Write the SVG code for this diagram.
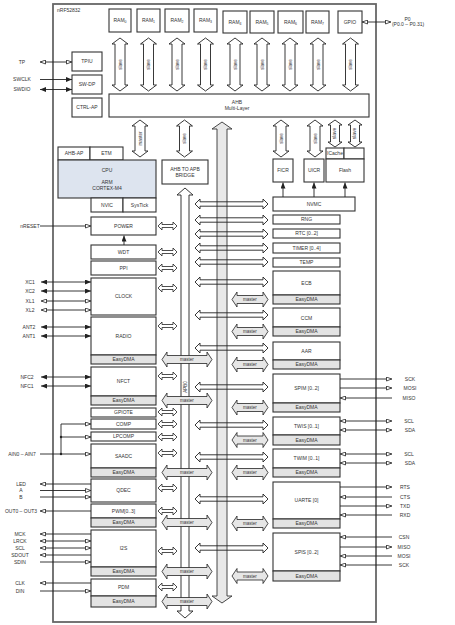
<svg xmlns="http://www.w3.org/2000/svg" width="455" height="625" viewBox="0 0 455 625">
<style>
text{font-family:"Liberation Sans",Arial,sans-serif;font-size:5px;fill:#333}
.c{text-anchor:middle}
.b{fill:#fff;stroke:#333;stroke-width:1.1}
.d{fill:#e3e3e3;stroke:#333;stroke-width:1.1}
.cpu{fill:#dde4ef;stroke:#333;stroke-width:1.1}
.ln{stroke:#222;stroke-width:0.9;fill:none}
.arn{fill:none;stroke:#222;stroke-width:0.9}
.sm{font-size:4.5px}
</style>
<defs>
<marker id="f" viewBox="0 0 6 5" refX="6" refY="2.5" markerWidth="6" markerHeight="5" markerUnits="userSpaceOnUse" orient="auto-start-reverse"><path d="M0,0L6,2.5L0,5z" fill="#222"/></marker>
<marker id="h" viewBox="0 0 6 5" refX="6" refY="2.5" markerWidth="6" markerHeight="5" markerUnits="userSpaceOnUse" orient="auto-start-reverse"><path d="M0.5,0.5L5.6,2.5L0.5,4.5z" fill="#fff" stroke="#222" stroke-width="0.8"/></marker>
<path id="aL" d="M195,0L200,-5L200,-2.2L263,-2.2L263,-5L268,0L263,5L263,2.2L200,2.2L200,5Z" fill="none" stroke="#222" stroke-width="0.9"/>
<path id="aS" d="M158,0L162,-4L162,-1.5L173,-1.5L173,-4L177,0L173,4L173,1.5L162,1.5L162,4Z" fill="#fff" stroke="#222" stroke-width="0.8"/>
<g id="mL"><path d="M162,0L167,-7.5L167,-4L207,-4L207,-7.5L212,0L207,7.5L207,4L167,4L167,7.5Z" fill="#e6e6e6" stroke="#222" stroke-width="0.8"/><text x="187" y="1.6" class="c sm">master</text></g>
<g id="mR"><path d="M232,0L237,-7.5L237,-4L263,-4L263,-7.5L268,0L263,7.5L263,4L237,4L237,7.5Z" fill="#e6e6e6" stroke="#222" stroke-width="0.8"/><text x="250" y="1.6" class="c sm">master</text></g>
<g id="sv1"><path d="M0,0L8,6L5,6L5,47L8,47L0,53L-8,47L-5,47L-5,6L-8,6Z" fill="#fff" stroke="#222" stroke-width="0.9"/><text transform="rotate(-90)" x="-26.5" y="1.6" class="c sm">slave</text></g>
<g id="sv2"><path d="M0,0L8,6L5,6L5,31L8,31L0,37L-8,31L-5,31L-5,6L-8,6Z" fill="#fff" stroke="#222" stroke-width="0.9"/><text transform="rotate(-90)" x="-18.5" y="1.6" class="c sm">slave</text></g>
<g id="mv"><path d="M0,0L8,6L5,6L5,31L8,31L0,37L-8,31L-5,31L-5,6L-8,6Z" fill="#fff" stroke="#222" stroke-width="0.9"/><text transform="rotate(-90)" x="-18.5" y="1.6" class="c sm">master</text></g>
<g id="sv3"><path d="M0,0L7,5L4.5,5L4.5,22L7,22L0,27L-7,22L-4.5,22L-4.5,5L-7,5Z" fill="#fff" stroke="#222" stroke-width="0.9"/><text transform="rotate(-90)" x="-13.5" y="1.4" class="c" font-size="4">slave</text></g>
</defs>

<g id="chip"><rect x="53" y="4" width="323" height="618" fill="none" stroke="#666" stroke-width="1.8"/><text x="57" y="12" font-size="4.5">nRF52832</text></g>

<g id="ram0"><rect class="b" x="109" y="9" width="22" height="23"/><text x="120" y="22" class="c">RAM<tspan font-size="3.5" dy="1">0</tspan></text></g>
<g id="ram1"><rect class="b" x="137" y="9" width="23" height="23"/><text x="148.5" y="22" class="c">RAM<tspan font-size="3.5" dy="1">1</tspan></text></g>
<g id="ram2"><rect class="b" x="165" y="9" width="24" height="23"/><text x="177" y="22" class="c">RAM<tspan font-size="3.5" dy="1">2</tspan></text></g>
<g id="ram3"><rect class="b" x="194" y="9" width="23" height="23"/><text x="205.5" y="22" class="c">RAM<tspan font-size="3.5" dy="1">3</tspan></text></g>
<g id="ram4"><rect class="b" x="223" y="11" width="24" height="22"/><text x="235" y="23.5" class="c">RAM<tspan font-size="3.5" dy="1">4</tspan></text></g>
<g id="ram5"><rect class="b" x="250" y="11" width="24" height="22"/><text x="262" y="23.5" class="c">RAM<tspan font-size="3.5" dy="1">5</tspan></text></g>
<g id="ram6"><rect class="b" x="278" y="11" width="25" height="22"/><text x="290.5" y="23.5" class="c">RAM<tspan font-size="3.5" dy="1">6</tspan></text></g>
<g id="ram7"><rect class="b" x="306" y="11" width="23" height="22"/><text x="317.5" y="23.5" class="c">RAM<tspan font-size="3.5" dy="1">7</tspan></text></g>
<g id="gpio"><rect class="b" x="338" y="11" width="24" height="22"/><text x="350" y="23.5" class="c">GPIO</text></g>

<g id="ahb"><rect class="b" x="109" y="94" width="260" height="23"/><text x="237" y="103.5" class="c">AHB</text><text x="237" y="110" class="c">Multi-Layer</text></g>

<g id="tpiu"><rect class="b" x="72" y="52" width="30" height="19"/><text x="87" y="63.3" class="c">TPIU</text></g>
<g id="swdp"><rect class="b" x="72" y="75" width="30" height="19"/><text x="87" y="86.3" class="c">SW-DP</text></g>
<g id="ctrlap"><rect class="b" x="72" y="98" width="30" height="19"/><text x="87" y="109.3" class="c">CTRL-AP</text></g>

<g id="cpu">
<rect class="b" x="58" y="147" width="32" height="13"/><text x="74" y="155.3" class="c">AHB-AP</text>
<rect class="b" x="90" y="147" width="33" height="13"/><text x="106.5" y="155.3" class="c">ETM</text>
<rect class="cpu" x="58" y="160" width="98" height="38"/>
<text x="107" y="171.8" class="c">CPU</text><text x="107" y="183.5" class="c">ARM</text><text x="107" y="190" class="c">CORTEX-M4</text>
<rect class="b" x="91" y="198" width="32" height="14"/><text x="107" y="206.8" class="c">NVIC</text>
<rect class="b" x="123" y="198" width="33" height="14"/><text x="139.5" y="206.8" class="c">SysTick</text>
</g>

<g id="bridge"><rect class="b" x="162" y="160" width="46" height="24"/><text x="185" y="170.8" class="c">AHB TO APB</text><text x="185" y="177" class="c">BRIDGE</text></g>

<g id="ficr"><rect class="b" x="273" y="159" width="20" height="23"/><text x="283" y="172.3" class="c">FICR</text></g>
<g id="uicr"><rect class="b" x="304" y="159" width="20" height="23"/><text x="314" y="172.3" class="c">UICR</text></g>
<g id="flash"><rect class="b" x="326" y="148" width="18" height="11"/><text x="335" y="154.8" class="c" font-size="3.5">ICache</text><rect class="b" x="344" y="148" width="20" height="11"/><rect class="b" x="326" y="159" width="38" height="23"/><text x="345" y="172.3" class="c">Flash</text></g>
<g id="nvmc"><rect class="b" x="273" y="197" width="82" height="14"/><text x="314" y="205.8" class="c">NVMC</text></g>

<g id="power"><rect class="b" x="91" y="217" width="65" height="18"/><text x="123.5" y="227.8" class="c">POWER</text></g>
<g id="wdt"><rect class="b" x="91" y="245" width="65" height="14"/><text x="123.5" y="253.8" class="c">WDT</text></g>
<g id="ppi"><rect class="b" x="91" y="261" width="65" height="14"/><text x="123.5" y="269.8" class="c">PPI</text></g>
<g id="clock"><rect class="b" x="91" y="278" width="65" height="37"/><text x="123.5" y="298.3" class="c">CLOCK</text></g>
<g id="radio"><rect class="b" x="91" y="317" width="65" height="38"/><text x="123.5" y="337.8" class="c">RADIO</text><rect class="d" x="91" y="355" width="65" height="9"/><text x="123.5" y="361.3" class="c">EasyDMA</text></g>
<g id="nfct"><rect class="b" x="91" y="367" width="65" height="29"/><text x="123.5" y="383.3" class="c">NFCT</text><rect class="d" x="91" y="396" width="65" height="9"/><text x="123.5" y="402.3" class="c">EasyDMA</text></g>
<g id="gpiote"><rect class="b" x="91" y="408" width="65" height="9"/><text x="123.5" y="414.3" class="c">GPIOTE</text></g>
<g id="comp"><rect class="b" x="91" y="419" width="65" height="10"/><text x="123.5" y="425.8" class="c">COMP</text></g>
<g id="lpcomp"><rect class="b" x="91" y="432" width="65" height="9"/><text x="123.5" y="438.3" class="c">LPCOMP</text></g>
<g id="saadc"><rect class="b" x="91" y="444" width="65" height="24"/><text x="123.5" y="457.8" class="c">SAADC</text><rect class="d" x="91" y="468" width="65" height="9"/><text x="123.5" y="474.3" class="c">EasyDMA</text></g>
<g id="qdec"><rect class="b" x="91" y="479" width="65" height="23"/><text x="123.5" y="492.3" class="c">QDEC</text></g>
<g id="pwm"><rect class="b" x="91" y="504" width="65" height="14"/><text x="123.5" y="512.8" class="c">PWM[0..3]</text><rect class="d" x="91" y="518" width="65" height="9"/><text x="123.5" y="524.3" class="c">EasyDMA</text></g>
<g id="i2s"><rect class="b" x="91" y="530" width="65" height="37"/><text x="123.5" y="550.3" class="c">I2S</text><rect class="d" x="91" y="567" width="65" height="9"/><text x="123.5" y="573.3" class="c">EasyDMA</text></g>
<g id="pdm"><rect class="b" x="91" y="579" width="65" height="17"/><text x="123.5" y="589.3" class="c">PDM</text><rect class="d" x="91" y="596" width="65" height="11"/><text x="123.5" y="603.3" class="c">EasyDMA</text></g>

<g id="rng"><rect class="b" x="273" y="215" width="67" height="9"/><text x="306.5" y="221.3" class="c">RNG</text></g>
<g id="rtc"><rect class="b" x="273" y="229" width="67" height="9"/><text x="306.5" y="235.3" class="c">RTC [0..2]</text></g>
<g id="timer"><rect class="b" x="273" y="243" width="67" height="10"/><text x="306.5" y="249.8" class="c">TIMER [0..4]</text></g>
<g id="temp"><rect class="b" x="273" y="258" width="67" height="9"/><text x="306.5" y="264.3" class="c">TEMP</text></g>
<g id="ecb"><rect class="b" x="273" y="271" width="67" height="24"/><text x="306.5" y="284.8" class="c">ECB</text><rect class="d" x="273" y="295" width="67" height="9"/><text x="306.5" y="301.3" class="c">EasyDMA</text></g>
<g id="ccm"><rect class="b" x="273" y="308" width="67" height="19"/><text x="306.5" y="320" class="c">CCM</text><rect class="d" x="273" y="327" width="67" height="9"/><text x="306.5" y="333.3" class="c">EasyDMA</text></g>
<g id="aar"><rect class="b" x="273" y="342" width="67" height="18"/><text x="306.5" y="352.8" class="c">AAR</text><rect class="d" x="273" y="360" width="67" height="9"/><text x="306.5" y="366.3" class="c">EasyDMA</text></g>
<g id="spim"><rect class="b" x="273" y="374" width="67" height="29"/><text x="306.5" y="389.8" class="c">SPIM [0..2]</text><rect class="d" x="273" y="403" width="67" height="9"/><text x="306.5" y="409.3" class="c">EasyDMA</text></g>
<g id="twis"><rect class="b" x="273" y="417" width="67" height="18"/><text x="306.5" y="427.8" class="c">TWIS [0..1]</text><rect class="d" x="273" y="435" width="67" height="10"/><text x="306.5" y="441.8" class="c">EasyDMA</text></g>
<g id="twim"><rect class="b" x="273" y="449" width="67" height="19"/><text x="306.5" y="459.5" class="c">TWIM [0..1]</text><rect class="d" x="273" y="468" width="67" height="9"/><text x="306.5" y="474.3" class="c">EasyDMA</text></g>
<g id="uarte"><rect class="b" x="273" y="482" width="67" height="37"/><text x="306.5" y="501.8" class="c">UARTE [0]</text><rect class="d" x="273" y="519" width="67" height="9"/><text x="306.5" y="525.3" class="c">EasyDMA</text></g>
<g id="spis"><rect class="b" x="273" y="533" width="67" height="38"/><text x="306.5" y="553.8" class="c">SPIS [0..2]</text><rect class="d" x="273" y="571" width="67" height="10"/><text x="306.5" y="577.8" class="c">EasyDMA</text></g>

<g id="labels">
<text x="22" y="63.8" class="c">TP</text><text x="22" y="81.3" class="c">SWCLK</text><text x="22" y="91.3" class="c">SWDIO</text>
<text x="30" y="227.8" class="c">nRESET</text>
<text x="30" y="283.8" class="c">XC1</text><text x="30" y="292.8" class="c">XC2</text><text x="30" y="302.8" class="c">XL1</text><text x="30" y="311.8" class="c">XL2</text>
<text x="29" y="328.8" class="c">ANT2</text><text x="29" y="337.8" class="c">ANT1</text>
<text x="27" y="378.8" class="c">NFC2</text><text x="27" y="387.8" class="c">NFC1</text>
<text x="22" y="455.8" class="c">AIN0 – AIN7</text>
<text x="21" y="485.8" class="c">LED</text><text x="21" y="492.3" class="c">A</text><text x="21" y="498.8" class="c">B</text>
<text x="21" y="512.8" class="c">OUT0 – OUT3</text>
<text x="20" y="535.8" class="c">MCK</text><text x="20" y="542.8" class="c">LRCK</text><text x="20" y="549.8" class="c">SCL</text><text x="20" y="556.8" class="c">SDOUT</text><text x="20" y="563.8" class="c">SDIN</text>
<text x="20" y="584.8" class="c">CLK</text><text x="20" y="592.8" class="c">DIN</text>
<text x="407.5" y="21" class="c">P0</text><text x="408" y="26" class="c">(P0.0 – P0.31)</text>
<text x="410" y="380.8" class="c">SCK</text><text x="410" y="389.8" class="c">MOSI</text><text x="409" y="399.8" class="c">MISO</text>
<text x="409" y="422.8" class="c">SCL</text><text x="410" y="431.8" class="c">SDA</text>
<text x="409" y="455.8" class="c">SCL</text><text x="410" y="464.8" class="c">SDA</text>
<text x="405" y="488.8" class="c">RTS</text><text x="405" y="498.8" class="c">CTS</text><text x="405" y="507.8" class="c">TXD</text><text x="405" y="516.8" class="c">RXD</text>
<text x="404" y="538.8" class="c">CSN</text><text x="404" y="548.8" class="c">MISO</text><text x="404" y="557.8" class="c">MOSI</text><text x="404" y="566.8" class="c">SCK</text>
</g>

<g id="connectors">
<path d="M185,188L193,195L189,195L189,611L193,611L185,618L177,611L181,611L181,195L177,195Z" fill="#fff" stroke="#222" stroke-width="0.9"/>
<text transform="rotate(-90)" x="-387" y="186.6" class="c sm">APB0</text>
<path d="M222,122L232,129L227,129L227,596L232,596L222,603L212,596L217,596L217,129L212,129Z" fill="#e8e8e8" stroke="#333" stroke-width="0.9"/>

<use href="#sv1" x="120" y="38"/><use href="#sv1" x="148.5" y="38"/><use href="#sv1" x="177" y="38"/><use href="#sv1" x="205.5" y="38"/><use href="#sv1" x="235" y="38"/><use href="#sv1" x="262" y="38"/><use href="#sv1" x="290" y="38"/><use href="#sv1" x="318" y="38"/><use href="#sv1" x="350.5" y="38"/>
<use href="#mv" x="140" y="120"/><use href="#sv2" x="184.5" y="120"/><use href="#sv2" x="281" y="120"/><use href="#sv2" x="315" y="120"/><use href="#sv3" x="335" y="120"/><use href="#sv3" x="355" y="120"/>

<use href="#aL" y="204"/><use href="#aL" y="220"/><use href="#aL" y="234"/><use href="#aL" y="248"/><use href="#aL" y="262"/><use href="#aL" y="282"/><use href="#aL" y="315"/><use href="#aL" y="348"/><use href="#aL" y="387"/><use href="#aL" y="425"/><use href="#aL" y="457"/><use href="#aL" y="499"/><use href="#aL" y="548"/>
<use href="#mR" y="299.5"/><use href="#mR" y="331.5"/><use href="#mR" y="364.5"/><use href="#mR" y="407.5"/><use href="#mR" y="440"/><use href="#mR" y="472.5"/><use href="#mR" y="523.5"/><use href="#mR" y="576"/>
<use href="#aS" y="226"/><use href="#aS" y="252"/><use href="#aS" y="268"/><use href="#aS" y="288"/><use href="#aS" y="326"/><use href="#aS" y="376"/><use href="#aS" y="412"/><use href="#aS" y="424"/><use href="#aS" y="437"/><use href="#aS" y="453"/><use href="#aS" y="488"/><use href="#aS" y="511"/><use href="#aS" y="551"/><use href="#aS" y="587"/>
<use href="#mL" y="359.5"/><use href="#mL" y="400.5"/><use href="#mL" y="472.5"/><use href="#mL" y="522.5"/><use href="#mL" y="571.5"/><use href="#mL" y="601.5"/>

<line class="ln" x1="124" y1="245" x2="124" y2="235.5" marker-end="url(#f)"/>
<line class="ln" x1="283" y1="197" x2="283" y2="182.5" marker-end="url(#f)"/>
<line class="ln" x1="314" y1="197" x2="314" y2="182.5" marker-end="url(#f)"/>
<line class="ln" x1="345" y1="197" x2="345" y2="182.5" marker-end="url(#f)"/>

<line class="ln" x1="40" y1="62" x2="72" y2="62" marker-start="url(#h)" marker-end="url(#h)"/>
<line class="ln" x1="40" y1="79.5" x2="72" y2="79.5" marker-end="url(#f)"/>
<line class="ln" x1="40" y1="89.5" x2="72" y2="89.5" marker-start="url(#f)" marker-end="url(#f)"/>
<line class="ln" x1="40" y1="226" x2="91" y2="226" marker-end="url(#h)"/>
<line class="ln" x1="41" y1="282" x2="91" y2="282" marker-start="url(#f)" marker-end="url(#f)"/>
<line class="ln" x1="41" y1="291" x2="91" y2="291" marker-start="url(#f)" marker-end="url(#f)"/>
<line class="ln" x1="41" y1="301" x2="91" y2="301" marker-start="url(#h)" marker-end="url(#h)"/>
<line class="ln" x1="41" y1="310" x2="91" y2="310" marker-start="url(#h)" marker-end="url(#h)"/>
<line class="ln" x1="41" y1="327" x2="91" y2="327" marker-start="url(#f)" marker-end="url(#f)"/>
<line class="ln" x1="41" y1="336" x2="91" y2="336" marker-start="url(#f)" marker-end="url(#f)"/>
<line class="ln" x1="41" y1="377" x2="91" y2="377" marker-start="url(#f)" marker-end="url(#f)"/>
<line class="ln" x1="41" y1="386" x2="91" y2="386" marker-start="url(#f)" marker-end="url(#f)"/>
<line class="ln" x1="40" y1="454" x2="91" y2="454" marker-end="url(#h)"/>
<line class="ln" x1="61" y1="424" x2="61" y2="454"/>
<line class="ln" x1="61" y1="424" x2="91" y2="424" marker-end="url(#h)"/>
<line class="ln" x1="61" y1="437" x2="91" y2="437" marker-end="url(#h)"/>
<circle cx="61" cy="437" r="1.2" fill="#222"/><circle cx="61" cy="454" r="1.2" fill="#222"/>
<line class="ln" x1="91" y1="484" x2="40" y2="484" marker-end="url(#h)"/>
<line class="ln" x1="40" y1="490.5" x2="91" y2="490.5" marker-end="url(#h)"/>
<line class="ln" x1="40" y1="497" x2="91" y2="497" marker-end="url(#h)"/>
<line class="ln" x1="91" y1="511" x2="40" y2="511" marker-end="url(#h)"/>
<line class="ln" x1="91" y1="534" x2="40" y2="534" marker-end="url(#h)"/>
<line class="ln" x1="40" y1="541" x2="91" y2="541" marker-start="url(#h)" marker-end="url(#h)"/>
<line class="ln" x1="40" y1="548" x2="91" y2="548" marker-start="url(#h)" marker-end="url(#h)"/>
<line class="ln" x1="91" y1="555" x2="40" y2="555" marker-end="url(#h)"/>
<line class="ln" x1="40" y1="562" x2="91" y2="562" marker-end="url(#h)"/>
<line class="ln" x1="91" y1="583" x2="40" y2="583" marker-end="url(#h)"/>
<line class="ln" x1="40" y1="591" x2="91" y2="591" marker-end="url(#h)"/>

<line class="ln" x1="362" y1="22" x2="391" y2="22" marker-start="url(#h)" marker-end="url(#h)"/>
<line class="ln" x1="340" y1="379" x2="392" y2="379" marker-end="url(#h)"/>
<line class="ln" x1="340" y1="388" x2="392" y2="388" marker-end="url(#h)"/>
<line class="ln" x1="392" y1="398" x2="340" y2="398" marker-end="url(#h)"/>
<line class="ln" x1="340" y1="421" x2="392" y2="421" marker-start="url(#h)" marker-end="url(#h)"/>
<line class="ln" x1="340" y1="430" x2="392" y2="430" marker-start="url(#h)" marker-end="url(#h)"/>
<line class="ln" x1="340" y1="454" x2="392" y2="454" marker-start="url(#h)" marker-end="url(#h)"/>
<line class="ln" x1="340" y1="463" x2="392" y2="463" marker-start="url(#h)" marker-end="url(#h)"/>
<line class="ln" x1="340" y1="487" x2="392" y2="487" marker-end="url(#h)"/>
<line class="ln" x1="392" y1="497" x2="340" y2="497" marker-end="url(#h)"/>
<line class="ln" x1="340" y1="506" x2="392" y2="506" marker-end="url(#h)"/>
<line class="ln" x1="392" y1="515" x2="340" y2="515" marker-end="url(#h)"/>
<line class="ln" x1="392" y1="537" x2="340" y2="537" marker-end="url(#h)"/>
<line class="ln" x1="340" y1="547" x2="392" y2="547" marker-end="url(#h)"/>
<line class="ln" x1="392" y1="556" x2="340" y2="556" marker-end="url(#h)"/>
<line class="ln" x1="392" y1="565" x2="340" y2="565" marker-end="url(#h)"/>
</g>
</svg>
